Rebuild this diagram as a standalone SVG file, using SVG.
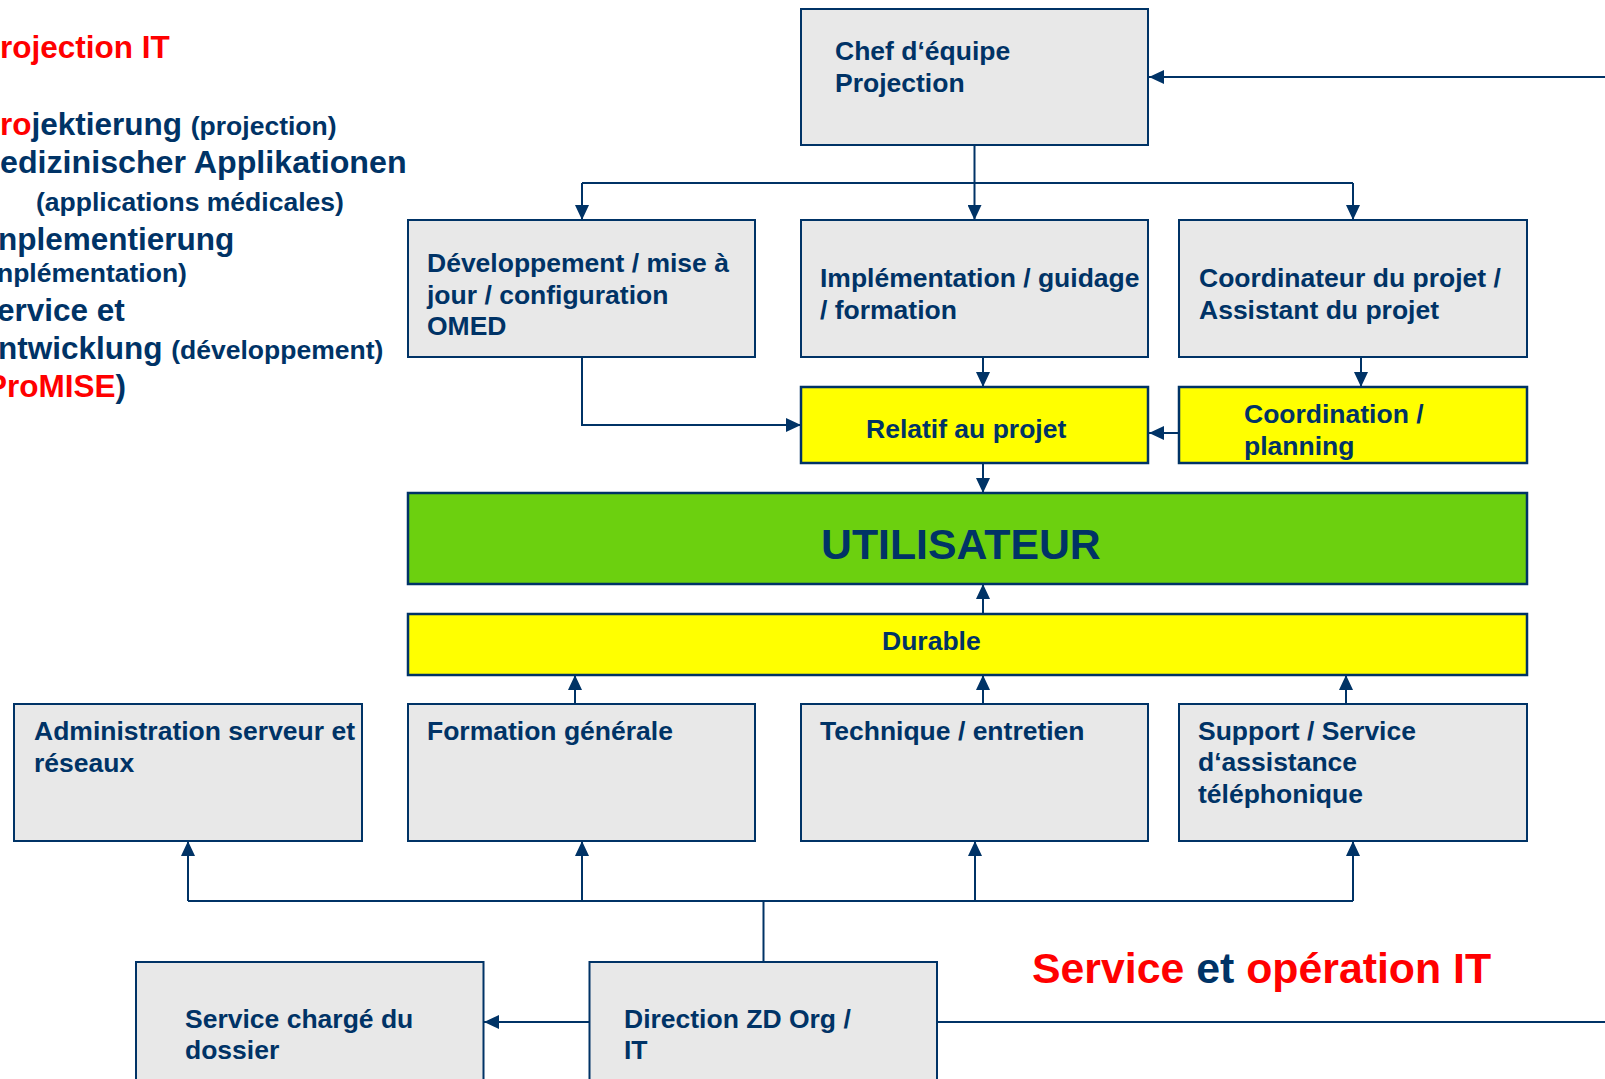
<svg xmlns="http://www.w3.org/2000/svg" width="1605" height="1079" viewBox="0 0 1605 1079">
<style>
text{font-family:"Liberation Sans",Arial,sans-serif;font-weight:bold;fill:#003366}
.box{fill:#E8E8E8;stroke:#003366;stroke-width:2}
.yel{fill:#FFFF00;stroke:#003366;stroke-width:2.5}
.grn{fill:#6CD00F;stroke:#003366;stroke-width:2.5}
.t{font-size:26.5px}
.big{font-size:31.5px}
.red{fill:#FF0000}
.c{fill:none;stroke:#003366;stroke-width:2}
</style>
<defs>
<marker id="ah" markerUnits="userSpaceOnUse" markerWidth="15" markerHeight="14" refX="15" refY="7" orient="auto">
<path d="M0,0 L15,7 L0,14 z" fill="#003366"/>
</marker>
</defs>
<rect width="1605" height="1079" fill="#FFFFFF"/>

<g id="legend">
<text x="0" y="58" class="big red">rojection IT</text>
<text x="0" y="135" class="big"><tspan class="red">ro</tspan>jektierung <tspan style="font-size:26.5px">(projection)</tspan></text>
<text x="0" y="173" class="big" style="font-size:32.2px">edizinischer Applikationen</text>
<text x="36" y="211" class="t">(applications médicales)</text>
<text x="-2" y="250" class="big">nplementierung</text>
<text x="-3" y="282" class="t">nplémentation)</text>
<text x="-3" y="320.5" class="big">ervice et</text>
<text x="-2" y="359" class="big">ntwicklung <tspan style="font-size:26.5px">(développement)</tspan></text>
<text x="-14" y="397" class="big"><tspan class="red">ProMISE</tspan>)</text>
</g>

<g id="connectors">
<path class="c" d="M1605,77 L1149,77" marker-end="url(#ah)"/>
<path class="c" d="M974.5,145 L974.5,220" marker-end="url(#ah)"/>
<path class="c" d="M582,183 L1353,183"/>
<path class="c" d="M582,183 L582,220" marker-end="url(#ah)"/>
<path class="c" d="M1353,183 L1353,220" marker-end="url(#ah)"/>
<path class="c" d="M582,357 L582,425 L801,425" marker-end="url(#ah)"/>
<path class="c" d="M983,357 L983,387" marker-end="url(#ah)"/>
<path class="c" d="M1361,357 L1361,387" marker-end="url(#ah)"/>
<path class="c" d="M1179,433 L1149,433" marker-end="url(#ah)"/>
<path class="c" d="M983,463 L983,493" marker-end="url(#ah)"/>
<path class="c" d="M983,614 L983,584" marker-end="url(#ah)"/>
<path class="c" d="M575,704 L575,675" marker-end="url(#ah)"/>
<path class="c" d="M983,704 L983,675" marker-end="url(#ah)"/>
<path class="c" d="M1346,704 L1346,675" marker-end="url(#ah)"/>
<path class="c" d="M763.5,962 L763.5,901"/>
<path class="c" d="M188,901 L1353,901"/>
<path class="c" d="M188,901 L188,841" marker-end="url(#ah)"/>
<path class="c" d="M582,901 L582,841" marker-end="url(#ah)"/>
<path class="c" d="M975,901 L975,841" marker-end="url(#ah)"/>
<path class="c" d="M1353,901 L1353,841" marker-end="url(#ah)"/>
<path class="c" d="M589.5,1022 L484,1022" marker-end="url(#ah)"/>
<path class="c" d="M937,1022 L1605,1022"/>
</g>

<g id="chef">
<rect class="box" x="801" y="9" width="347" height="136"/>
<text class="t" x="835" y="60">Chef d‘équipe</text>
<text class="t" x="835" y="92">Projection</text>
</g>

<g id="dev">
<rect class="box" x="408" y="220" width="347" height="137"/>
<text class="t" x="427" y="272">Développement / mise à</text>
<text class="t" x="427" y="303.5">jour / configuration</text>
<text class="t" x="427" y="335">OMED</text>
</g>

<g id="impl">
<rect class="box" x="801" y="220" width="347" height="137"/>
<text class="t" x="820" y="287">Implémentation / guidage</text>
<text class="t" x="820" y="318.5">/ formation</text>
</g>

<g id="coord">
<rect class="box" x="1179" y="220" width="348" height="137"/>
<text class="t" x="1199" y="287">Coordinateur du projet /</text>
<text class="t" x="1199" y="318.5">Assistant du projet</text>
</g>

<g id="relatif">
<rect class="yel" x="801" y="387" width="347" height="76"/>
<text class="t" x="866" y="437.5">Relatif au projet</text>
</g>

<g id="coordination">
<rect class="yel" x="1179" y="387" width="348" height="76"/>
<text class="t" x="1244" y="423">Coordination /</text>
<text class="t" x="1244" y="454.5">planning</text>
</g>

<g id="utilisateur">
<rect class="grn" x="408" y="493" width="1119" height="91"/>
<text x="821" y="558.5" style="font-size:42.8px">UTILISATEUR</text>
</g>

<g id="durable">
<rect class="yel" x="408" y="614" width="1119" height="61"/>
<text class="t" x="882" y="650">Durable</text>
</g>

<g id="admin">
<rect class="box" x="14" y="704" width="348" height="137"/>
<text class="t" x="34" y="739.5">Administration serveur et</text>
<text class="t" x="34" y="771.5">réseaux</text>
</g>

<g id="formation">
<rect class="box" x="408" y="704" width="347" height="137"/>
<text class="t" x="427" y="739.5">Formation générale</text>
</g>

<g id="technique">
<rect class="box" x="801" y="704" width="347" height="137"/>
<text class="t" x="820" y="739.5">Technique / entretien</text>
</g>

<g id="support">
<rect class="box" x="1179" y="704" width="348" height="137"/>
<text class="t" x="1198" y="739.5">Support / Service</text>
<text class="t" x="1198" y="771">d‘assistance</text>
<text class="t" x="1198" y="802.5">téléphonique</text>
</g>

<g id="service-charge">
<rect class="box" x="136" y="962" width="347.5" height="130"/>
<text class="t" x="185" y="1027.5">Service chargé du</text>
<text class="t" x="185" y="1059">dossier</text>
</g>

<g id="direction">
<rect class="box" x="589.5" y="962" width="347.5" height="130"/>
<text class="t" x="624" y="1027.5">Direction ZD Org /</text>
<text class="t" x="624" y="1059">IT</text>
</g>

<g id="title-service">
<text x="1032" y="983" style="font-size:42.8px" class="red">Service <tspan style="fill:#003366">et</tspan> opération IT</text>
</g>
</svg>
